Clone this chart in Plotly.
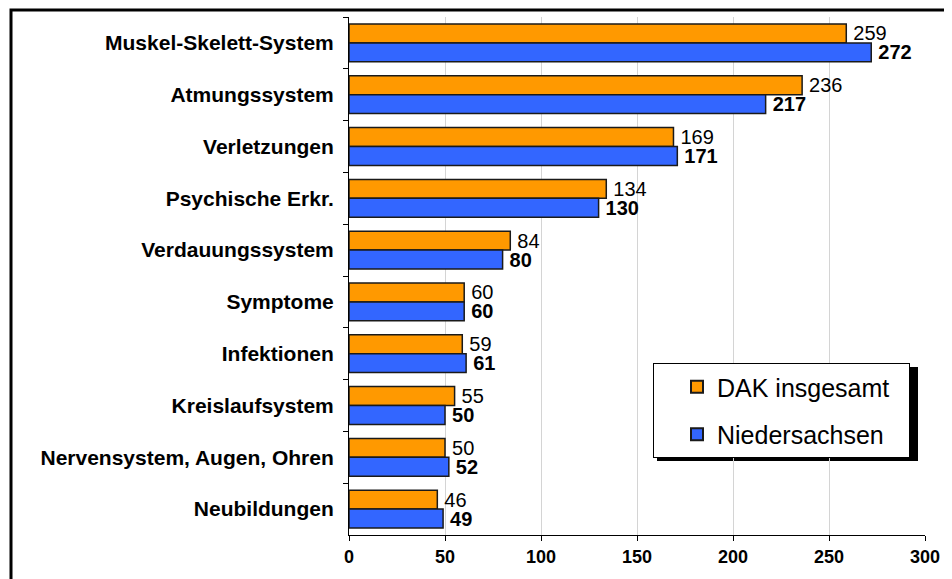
import plotly.graph_objects as go

categories = ["Muskel-Skelett-System", "Atmungssystem", "Verletzungen", "Psychische Erkr.",
              "Verdauungssystem", "Symptome", "Infektionen", "Kreislaufsystem",
              "Nervensystem, Augen, Ohren", "Neubildungen"]
dak_values = [259, 236, 169, 134, 84, 60, 59, 55, 50, 46]
nds_values = [272, 217, 171, 130, 80, 60, 61, 50, 52, 49]
x_ticks = [0, 50, 100, 150, 200, 250, 300]
series_names = ["DAK insgesamt", "Niedersachsen"]

FONT = "Arial, Liberation Sans, sans-serif"
OFF = 8  # default page margin of the html body
W, H = 952, 579
L, R, T, B = 349 - OFF, W - (925 - OFF), 17 - OFF, H - (535 - OFF)
pw, ph = W - L - R, H - T - B


def px_x(p):
    return (p - OFF - L) / pw


def px_y(p):
    return (H - B - (p - OFF)) / ph


NB = "\u00a0"

fig = go.Figure()
fig.add_trace(go.Bar(
    y=categories, x=dak_values, orientation="h", name=series_names[0] + NB * 2,
    marker=dict(color="#FF9900", line=dict(color="#1a1a1a", width=1.5)),
    text=["\u2009%d" % v for v in dak_values], textposition="outside", cliponaxis=False,
    constraintext="none",
    textfont=dict(family=FONT, size=20, color="#000000"),
    legendgroup="a",
))
fig.add_trace(go.Bar(
    y=categories, x=nds_values, orientation="h", name=series_names[1],
    marker=dict(color="#3366FF", line=dict(color="#1a1a1a", width=1.5)),
    text=["\u2009<b>%d</b>" % v for v in nds_values], textposition="outside", cliponaxis=False,
    constraintext="none",
    textfont=dict(family=FONT, size=20, color="#000000"),
    legendgroup="b",
))

# outer frame
fig.add_shape(type="rect", xref="paper", yref="paper",
              x0=px_x(11), x1=px_x(948), y0=px_y(640), y1=px_y(10),
              line=dict(color="#000000", width=3), fillcolor="rgba(0,0,0,0)", layer="above")
# legend shadow
fig.add_shape(type="rect", xref="paper", yref="paper",
              x0=px_x(657), x1=px_x(918), y0=px_y(461), y1=px_y(367),
              line=dict(width=0), fillcolor="#000000", layer="below")

fig.update_layout(
    width=W, height=H,
    margin=dict(l=L, r=R, t=T, b=B),
    paper_bgcolor="#ffffff", plot_bgcolor="#ffffff",
    barmode="group", bargap=0.27, bargroupgap=0,
    font=dict(family=FONT, color="#000000"),
    showlegend=True,
    legend=dict(
        x=px_x(653), y=px_y(363), xanchor="left", yanchor="top",
        bgcolor="#ffffff", bordercolor="#000000", borderwidth=1,
        font=dict(family=FONT, size=25, color="#000000"),
        tracegroupgap=12, traceorder="grouped", indentation=23,
        itemsizing="constant",
    ),
    xaxis=dict(
        range=[0, 300], tickvals=x_ticks, ticktext=[str(v) for v in x_ticks],
        showgrid=True, gridcolor="#d4d4d4", gridwidth=1,
        showline=True, linecolor="#000000", linewidth=1,
        ticks="outside", ticklen=5, tickcolor="#000000",
        tickfont=dict(family=FONT, size=18, color="#000000", weight="bold"),
        zeroline=False, fixedrange=True,
    ),
    yaxis=dict(
        autorange="reversed",
        showline=True, linecolor="#000000", linewidth=1,
        ticks="outside", ticklen=5, tickcolor="#000000", tickson="boundaries",
        tickfont=dict(family=FONT, size=21, color="#000000", weight="bold"),
        ticklabelstandoff=10,
        showgrid=False, fixedrange=True,
    ),
)

fig.write_html("out.html")
